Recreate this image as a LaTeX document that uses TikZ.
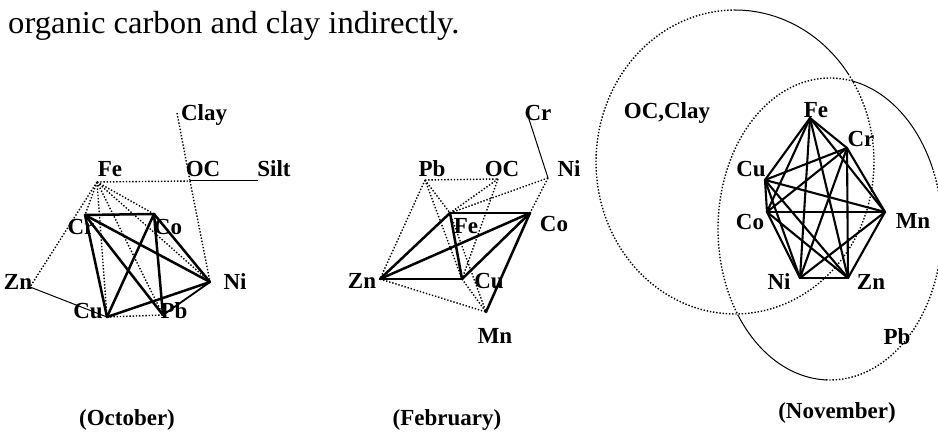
\documentclass[tikz,border=0pt]{standalone}
\usepackage{fontspec}
\setmainfont{Liberation Serif}
\begin{document}
\begin{tikzpicture}[x=1pt,y=-1pt,
  lab/.style={inner sep=0pt, anchor=base, font=\fontsize{23}{23}\selectfont\bfseries},
  captxt/.style={inner sep=0pt, anchor=base, font=\fontsize{23}{23}\selectfont\bfseries},
  thk/.style={line width=2.5pt, line cap=round},
  med/.style={line width=1.8pt, line cap=round},
  thn/.style={line width=1.0pt},
  dots/.style={line width=1.4pt, dash pattern=on 1.4pt off 1.8pt}]
\useasboundingbox (0,0) rectangle (938,438);
\fill[white] (0,0) rectangle (938,438);

% top text
\node[anchor=base west, inner sep=0pt, font=\fontsize{32}{32}\selectfont] (title) at (8,34)
  {\scalebox{1.02}[1]{organic carbon and clay indirectly.}};

% ================= October =================
\coordinate (oFe) at (97,182);
\coordinate (oOC) at (190,181);
\coordinate (oClay) at (177,113);
\coordinate (oSilt) at (258,181);
\coordinate (oCr) at (85,215);
\coordinate (oCo) at (154,214);
\coordinate (oZn) at (30,287);
\coordinate (oNi) at (210,282);
\coordinate (oCu) at (107,317);
\coordinate (oPb) at (163,315);

\node[lab] (lClay) at (204,121) {Clay};
\node[lab] (lFe) at (110,177) {Fe};
\node[lab] (lOC) at (203,177) {OC};
\node[lab] (lSilt) at (274,177) {Silt};
\node[lab] (lCr) at (81,235) {Cr};
\node[lab] (lCo) at (168,235) {Co};
\node[lab] (lZn) at (18,290) {Zn};
\node[lab] (lNi) at (235,290) {Ni};
\node[lab] (lCu) at (88,319) {Cu};
\node[lab] (lPb) at (174,319) {Pb};

\draw[dots] (oFe) -- (oOC);
\draw[thn] (oOC) -- (oSilt);
\draw[dots] (oClay) -- (oOC);
\draw[dots] (oOC) -- (oNi);
\draw[dots] (oFe) -- (oZn);
\draw[dots] (oFe) -- (oCr);
\draw[dots] (oFe) -- (oCo);
\draw[dots] (oFe) -- (oCu);
\draw[dots] (oFe) -- (oPb);
\draw[dots] (oFe) -- (oNi);
\draw[dots] (oCu) -- (oPb);
\draw[thn] (oZn) -- (oCu);
\draw[thk] (oCr) -- (oCo);
\draw[thk] (oCr) -- (oCu);
\draw[thk] (oCr) -- (oNi);
\draw[thk] (oCr) -- (oPb);
\draw[thk] (oCo) -- (oCu);
\draw[thk] (oCo) -- (oNi);
\draw[thk] (oCo) -- (oPb);
\draw[thk] (oCu) -- (oNi);
\draw[med] (oPb) -- (oNi);

% ================= February =================
\coordinate (fCr) at (527,113);
\coordinate (fPb) at (425,180);
\coordinate (fOC) at (498,179);
\coordinate (fNi) at (548,178);
\coordinate (fFe) at (450,213);
\coordinate (fCo) at (530,213);
\coordinate (fZn) at (380,279);
\coordinate (fCu) at (462,279);
\coordinate (fMn) at (486,312);

\node[lab] (mCr) at (538,121) {Cr};
\node[lab] (mPb) at (432,177) {Pb};
\node[lab] (mOC) at (502,177) {OC};
\node[lab] (mNi) at (569,177) {Ni};
\node[lab] (mFe) at (466,234) {Fe};
\node[lab] (mCo) at (554,232) {Co};
\node[lab] (mZn) at (362,289) {Zn};
\node[lab] (mCu) at (489,289) {Cu};
\node[lab] (mMn) at (495,344) {Mn};

\draw[dots] (fPb) -- (fOC);
\draw[dots] (fPb) -- (fZn);
\draw[dots] (fPb) -- (fFe);
\draw[dots] (fPb) -- (fCu);
\draw[dots] (fOC) -- (fFe);
\draw[dots] (fOC) -- (fCu);
\draw[dots] (fNi) -- (fFe);
\draw[dots] (fNi) -- (fCo);
\draw[dots] (fZn) -- (fMn);
\draw[dots] (fFe) -- (fMn);
\draw[dots] (fCu) -- (fMn);
\draw[thn] (fCr) -- (fNi);
\draw[thk] (fFe) -- (fCo);
\draw[thk] (fFe) -- (fZn);
\draw[thk] (fFe) -- (fCu);
\draw[thk] (fZn) -- (fCo);
\draw[thk] (fZn) -- (fCu);
\draw[thk] (fCu) -- (fCo);
\draw[thk] (fCo) -- (fMn);

% ================= November =================
% left ellipse: centre (735,162), rx 139, ry 152
\draw[dots] plot[domain=90:395, samples=150] ({735+139*cos(\x)},{162-152*sin(\x)});
\draw[thn] plot[domain=35:90, samples=40] ({735+139*cos(\x)},{162-152*sin(\x)});
% right ellipse: centre (830,229), rx 112, ry 151
\draw[dots] plot[domain=78:215, samples=80] ({830+112*cos(\x)},{229-151*sin(\x)});
\draw[dots] plot[domain=268:383, samples=80] ({830+112*cos(\x)},{229-151*sin(\x)});
\draw[thn] plot[domain=23:78, samples=40] ({830+112*cos(\x)},{229-151*sin(\x)});
\draw[thn] plot[domain=215:268, samples=40] ({830+112*cos(\x)},{229-151*sin(\x)});

\coordinate (nFe) at (810,118);
\coordinate (nCr) at (847,148);
\coordinate (nCu) at (765,180);
\coordinate (nCo) at (767,212);
\coordinate (nMn) at (885,212);
\coordinate (nNi) at (800,278);
\coordinate (nZn) at (848,278);

\node[lab] (kOC) at (667,119) {OC,Clay};
\node[lab] (kFe) at (816,118) {Fe};
\node[lab] (kCr) at (861,147) {Cr};
\node[lab] (kCu) at (751,177) {Cu};
\node[lab] (kCo) at (750,230) {Co};
\node[lab] (kMn) at (913,229) {Mn};
\node[lab] (kNi) at (779,290) {Ni};
\node[lab] (kZn) at (871,290) {Zn};
\node[lab] (kPb) at (897,345) {Pb};

\foreach \a/\b in {Fe/Cr,Fe/Cu,Fe/Co,Fe/Mn,Fe/Ni,Fe/Zn,
                   Cr/Cu,Cr/Co,Cr/Mn,Cr/Ni,Cr/Zn,
                   Cu/Co,Cu/Mn,Cu/Ni,Cu/Zn,
                   Co/Mn,Co/Ni,Co/Zn,
                   Mn/Ni,Mn/Zn,Ni/Zn}
  \draw[line width=2.1pt, line cap=round] (n\a) -- (n\b);

% captions
\node[captxt] (cOct) at (127,426) {(October)};
\node[captxt] (cFeb) at (447,426) {(February)};
\node[captxt] (cNov) at (837,419) {(November)};
\end{tikzpicture}
\end{document}
